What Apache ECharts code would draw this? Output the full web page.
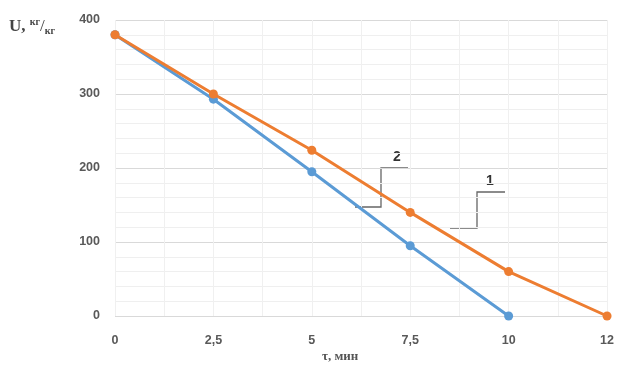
<!DOCTYPE html>
<html><head><meta charset="utf-8">
<script src="https://cdn.jsdelivr.net/npm/echarts@6/dist/echarts.min.js"></script>
<style>html,body{margin:0;padding:0;background:#fff}#c{width:617px;height:372px}</style>
</head><body><div id="c"></div>
<script>
const categories = ['0', '2,5', '5', '7,5', '10', '12'];
const series1 = [380, 293, 195, 95, 0, null];
const series2 = [380, 300, 224, 140, 60, 0];
const yTicks = [0, 100, 200, 300, 400];

const chart = echarts.init(document.getElementById('c'));
const lbl = {color: '#595959', fontSize: 12.5, fontWeight: 'bold', fontFamily: 'Liberation Sans, Arial, sans-serif'};
chart.setOption({
  animation: false,
  grid: {left: 115, right: 9, top: 20, bottom: 56},
  xAxis: [{
    type: 'category', data: categories, boundaryGap: false,
    axisLine: {show: false}, axisTick: {show: false},
    axisLabel: Object.assign({margin: 18}, lbl),
    splitLine: {show: true, lineStyle: {color: '#e8e8e8', width: 1}}
  }, {
    type: 'value', min: 0, max: categories.length - 1, interval: 0.5, show: true,
    axisLine: {show: false}, axisTick: {show: false}, axisLabel: {show: false},
    splitLine: {show: true, lineStyle: {color: '#f0f0f0', width: 1}}
  }],
  yAxis: {
    type: 'value', min: yTicks[0], max: yTicks[yTicks.length - 1], interval: 100,
    axisLine: {show: false}, axisTick: {show: false},
    axisLabel: Object.assign({margin: 15}, lbl),
    splitLine: {lineStyle: {color: '#d9d9d9', width: 1}},
    minorTick: {show: false, splitNumber: 5},
    minorSplitLine: {show: true, lineStyle: {color: '#efefef', width: 1}}
  },
  series: [{
    type: 'line', data: series1, xAxisIndex: 0, symbol: 'circle', symbolSize: 9,
    lineStyle: {color: '#5B9BD5', width: 3}, itemStyle: {color: '#5B9BD5'}, z: 3
  }, {
    type: 'line', data: series2, xAxisIndex: 0, symbol: 'circle', symbolSize: 9,
    lineStyle: {color: '#ED7D31', width: 3}, itemStyle: {color: '#ED7D31'}, z: 4
  }],
  graphic: [
    {type: 'text', left: 9, top: 17, style: {
      rich: {
        a: {fontFamily: 'Liberation Serif, serif', fontWeight: 'bold', fontSize: 17, fill: '#444'},
        s: {fontFamily: 'Liberation Serif, serif', fontWeight: 'bold', fontSize: 10, fill: '#444', verticalAlign: 'top', padding: [0,0,9,0]},
        b: {fontFamily: 'Liberation Serif, serif', fontSize: 17, fill: '#444'},
        d: {fontFamily: 'Liberation Serif, serif', fontWeight: 'bold', fontSize: 10, fill: '#444', padding: [9,0,0,0]}
      },
      text: '{a|U, }{s|кг}{b|/}{d|кг}'
    }},
    {type: 'text', left: 322, top: 350, style: {
      text: 'τ, мин', fontFamily: 'Liberation Serif, serif', fontWeight: 'bold', fontSize: 13, fill: '#555'
    }},
    {type: 'polyline', shape: {points: [[355, 207], [381, 207], [381, 168], [408, 168]]}, style: {stroke: '#666', lineWidth: 1.3, fill: null}},
    {type: 'text', left: 393, top: 150, style: {text: '2', fontSize: 14, fontWeight: 'bold', fill: '#333', fontFamily: 'Liberation Sans, sans-serif'}},
    {type: 'polyline', shape: {points: [[450, 228], [477, 228], [477, 192], [505, 192]]}, style: {stroke: '#666', lineWidth: 1.3, fill: null}},
    {type: 'text', left: 486, top: 174, style: {text: '1', fontSize: 14, fontWeight: 'bold', fill: '#333', fontFamily: 'Liberation Sans, sans-serif'}}
  ]
});
</script></body></html>
